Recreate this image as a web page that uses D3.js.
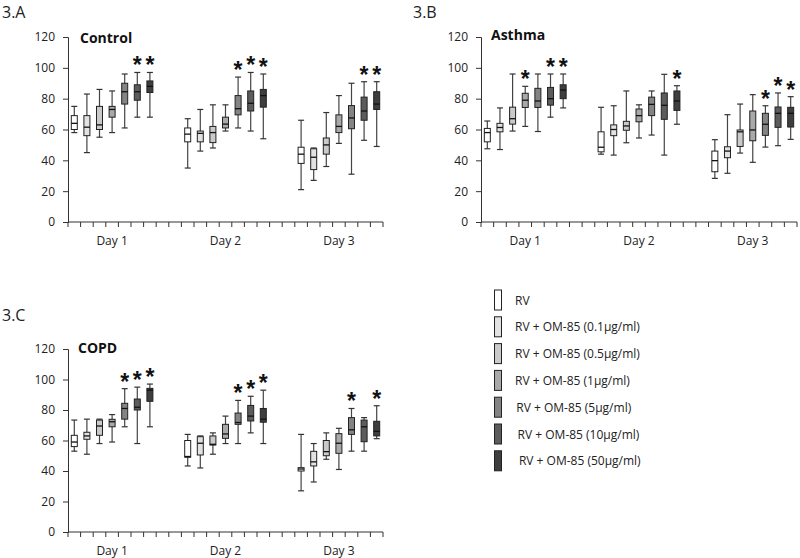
<!DOCTYPE html>
<html><head><meta charset="utf-8">
<script src="https://cdn.jsdelivr.net/npm/d3@7"></script>
<style>
body{margin:0;background:#fff;}
svg{display:block;font-family:"Open Sans",sans-serif;}
</style></head>
<body>
<svg id="c" width="800" height="558"></svg>
<script>
// ---------- data ----------
const days = ["Day 1", "Day 2", "Day 3"];
const treatments = ["RV", "RV + OM-85 (0.1µg/ml)", "RV + OM-85 (0.5µg/ml)", "RV + OM-85 (1µg/ml)",
  "RV + OM-85 (5µg/ml)", "RV + OM-85 (10µg/ml)", "RV + OM-85 (50µg/ml)"];
const fills = ["#ffffff", "#e2e2e2", "#cacaca", "#a9a9a9", "#848484", "#5c5c5c", "#3e3e3e"];
const yTicks = [0, 20, 40, 60, 80, 100, 120];
const panelLabels = ["3.A", "3.B", "3.C"];
const panelTitles = ["Control", "Asthma", "COPD"];

// [min, q1, median, q3, max] per day x treatment
const controlStats = [
  [58, 60, 64, 69, 75], [45, 56, 61.5, 69, 83], [55, 60, 63, 75, 86], [58, 68, 73, 75, 85],
  [61, 76.5, 84.5, 90, 96], [68, 79, 84.5, 89, 97], [68, 84, 88, 91.5, 97],
  [35, 52, 57, 61, 67], [46, 52, 57.5, 59, 73], [48, 51.5, 58, 62, 76], [59, 61, 63.5, 68, 76],
  [61, 69.5, 73.5, 82, 94], [59, 72, 77, 85, 97], [54, 74.5, 82, 86, 96],
  [21, 38, 44, 48.5, 66], [27, 34, 42, 47.5, 48], [36, 44, 50, 54.5, 71], [51, 58, 62, 69.5, 82],
  [31, 60.5, 67.5, 75.5, 90], [53, 66, 72, 81, 91], [49, 73, 76.5, 84.5, 91]
];
const asthmaStats = [
  [47.5, 52, 58, 60.7, 65.5], [47, 58.5, 61.3, 64, 74], [59, 63.5, 67, 74.5, 96], [62, 74.3, 79, 83.5, 88],
  [58.7, 74.3, 78.5, 86.7, 96], [68, 75.8, 80, 87.3, 96], [74, 80, 85.6, 89, 96],
  [44, 45.5, 48.5, 58.5, 74.4], [43.4, 56, 60, 63, 75.4], [51.4, 59.5, 62.3, 65.3, 85], [54.5, 65, 69, 73.3, 76],
  [56.4, 69, 76.3, 81, 85], [43.4, 66.6, 75.7, 83.7, 95.8], [63.4, 72.4, 78.5, 85, 88.4],
  [28.3, 32.6, 39.8, 46, 53.4], [31.6, 41.7, 46, 48.8, 69.6], [44.7, 49, 58.5, 59.7, 76.5], [38.7, 52.7, 59.7, 72, 82.6],
  [48.6, 56.2, 63.4, 70.5, 75.4], [49.5, 61.4, 70.5, 74.6, 83.7], [53.6, 61.6, 70.5, 74.4, 81.3]
];
const copdStats = [
  [53, 56, 59, 63.4, 73.4], [51, 60.8, 63, 65.4, 74], [58, 63.4, 69.5, 73.4, 74], [59, 69, 72.3, 73.9, 77],
  [69, 74, 81, 84.4, 94], [58, 80, 81.8, 87.2, 95], [69, 85.7, 93, 94.2, 97],
  [43.3, 49, 49.5, 60, 64], [42, 50.5, 58.2, 62.5, 63], [51, 57, 57.5, 63, 65], [58, 61.4, 64.3, 70.6, 76],
  [58, 70.6, 71.8, 78, 86.3], [65, 72.8, 76, 83, 89], [58, 72, 74, 81, 93],
  [27, 40, 41.3, 42.2, 64], [32.8, 43.3, 46, 52.9, 58], [47.7, 50, 52.7, 60, 65], [41, 51.6, 58.2, 64.5, 68],
  [53, 64, 67, 75, 81], [53, 59.2, 69, 73.4, 75], [61.2, 63, 66, 72.6, 82.8]
];
// significance marks (1 = asterisk)
const controlSig = [0,0,0,0,0,1,1, 0,0,0,0,1,1,1, 0,0,0,0,0,1,1];
const asthmaSig  = [0,0,0,1,0,1,1, 0,0,0,0,0,0,1, 0,0,0,0,1,1,1];
const copdSig    = [0,0,0,0,1,1,1, 0,0,0,0,1,1,1, 0,0,0,0,1,0,1];

// ---------- layout ----------
const svg = d3.select("#c");
const panels = [
  {stats: controlStats, sig: controlSig, x0: 68, x1: 383, yTop: 37, yBot: 222, lx: 2, ly: 18, tx: 80, ty: 43},
  {stats: asthmaStats, sig: asthmaSig, x0: 481, x1: 797, yTop: 37, yBot: 222, lx: 413, ly: 18, tx: 491, ty: 40},
  {stats: copdStats, sig: copdSig, x0: 68, x1: 383, yTop: 349, yBot: 532, lx: 2, ly: 321, tx: 78, ty: 353}
];
const nSlots = 25;
const slotOf = (d, t) => d * 9 + t;
const boxW = 6, capW = 6;

panels.forEach((p, pi) => {
  const g = svg.append("g");
  const x = d3.scaleBand().domain(d3.range(nSlots)).range([p.x0, p.x1]);
  const y = d3.scaleLinear().domain([0, 120]).range([p.yBot, p.yTop]);

  // y axis
  const ya = g.append("g").attr("transform", `translate(${p.x0},0)`)
    .call(d3.axisLeft(y).tickValues(yTicks).tickSize(5).tickPadding(8));
  ya.select(".domain").attr("stroke", "#333");
  ya.selectAll(".tick line").attr("stroke", "#333");
  ya.selectAll("text").attr("font-size", 12).attr("fill", "#222").attr("font-family", "Open Sans");

  // x axis line + boundary ticks
  g.append("line").attr("x1", p.x0).attr("x2", p.x1).attr("y1", p.yBot).attr("y2", p.yBot)
    .attr("stroke", "#333");
  const bounds = d3.range(nSlots + 1).map(i => p.x0 + i * x.step());
  g.selectAll(".bt").data(bounds).join("line")
    .attr("x1", d => d).attr("x2", d => d).attr("y1", p.yBot).attr("y2", p.yBot + 5)
    .attr("stroke", "#333");
  // day labels
  g.selectAll(".dl").data(days).join("text")
    .attr("x", (d, i) => x(slotOf(i, 3)) + x.bandwidth() / 2)
    .attr("y", p.yBot + 23)
    .attr("text-anchor", "middle").attr("font-size", 12).attr("fill", "#222")
    .text(d => d);

  // panel label & title
  g.append("text").attr("x", p.lx).attr("y", p.ly).attr("font-size", 16).attr("fill", "#222").text(panelLabels[pi]);
  g.append("text").attr("x", p.tx).attr("y", p.ty).attr("font-size", 14).attr("font-weight", "bold")
    .attr("fill", "#111").text(panelTitles[pi]);

  // boxes
  const items = [];
  days.forEach((d, di) => treatments.forEach((t, ti) => {
    const k = di * 7 + ti;
    items.push({s: p.stats[k], sig: p.sig[k], slot: slotOf(di, ti), ti});
  }));
  const bx = g.selectAll(".box").data(items).join("g");
  const cx = d => x(d.slot) + x.bandwidth() / 2;
  bx.append("line").attr("x1", cx).attr("x2", cx).attr("y1", d => y(d.s[0])).attr("y2", d => y(d.s[4]))
    .attr("stroke", "#444").attr("stroke-width", 1.2);
  bx.append("line").attr("x1", d => cx(d) - capW / 2).attr("x2", d => cx(d) + capW / 2)
    .attr("y1", d => y(d.s[4])).attr("y2", d => y(d.s[4])).attr("stroke", "#333").attr("stroke-width", 1.2);
  bx.append("line").attr("x1", d => cx(d) - capW / 2).attr("x2", d => cx(d) + capW / 2)
    .attr("y1", d => y(d.s[0])).attr("y2", d => y(d.s[0])).attr("stroke", "#333").attr("stroke-width", 1.2);
  bx.append("rect").attr("x", d => cx(d) - boxW / 2).attr("width", boxW)
    .attr("y", d => y(d.s[3])).attr("height", d => y(d.s[1]) - y(d.s[3]))
    .attr("fill", d => fills[d.ti]).attr("stroke", "#222").attr("stroke-width", 1);
  bx.append("line").attr("x1", d => cx(d) - boxW / 2).attr("x2", d => cx(d) + boxW / 2)
    .attr("y1", d => y(d.s[2])).attr("y2", d => y(d.s[2])).attr("stroke", "#111").attr("stroke-width", 1.3);
  bx.filter(d => d.sig).append("text").attr("x", cx).attr("y", d => y(d.s[4]) + 1)
    .attr("text-anchor", "middle").attr("font-size", 23).attr("font-weight", "bold")
    .attr("font-family", "Liberation Sans").attr("fill", "#111").text("*");
});

// ---------- legend ----------
const lg = svg.append("g");
const ly0 = 290, lstep = 26.8;
treatments.forEach((t, i) => {
  lg.append("rect").attr("x", 494.5).attr("y", ly0 + i * lstep).attr("width", 7).attr("height", 20)
    .attr("fill", fills[i]).attr("stroke", "#222").attr("stroke-width", 1);
  lg.append("text").attr("x", 515 + (i > 3 ? (i - 3) * 1.3 : 0)).attr("y", ly0 + i * lstep + 14.5)
    .attr("font-size", 12).attr("fill", "#222").text(t);
});
</script>
</body></html>
